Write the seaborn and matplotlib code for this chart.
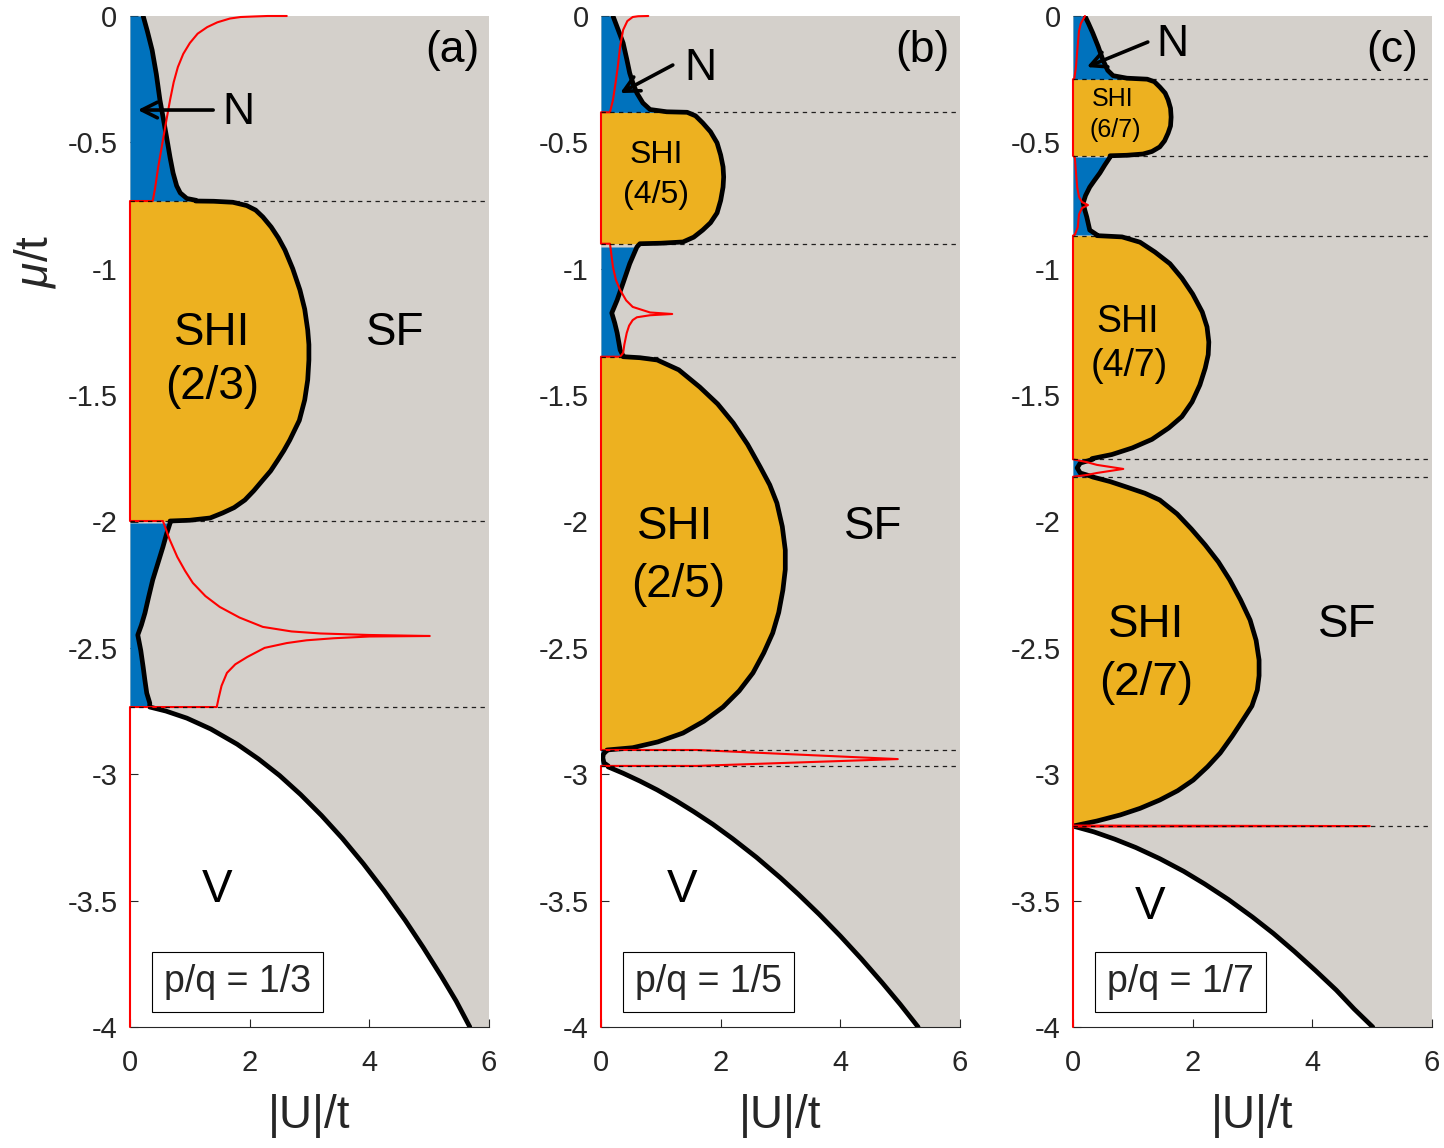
import matplotlib
matplotlib.use("Agg")
import matplotlib.pyplot as plt
import seaborn as sns
import numpy as np

sns.set_style("ticks")
plt.rcParams['font.family'] = ['Liberation Sans', 'DejaVu Sans']
plt.rcParams['axes.unicode_minus'] = False
plt.rcParams['mathtext.fontset'] = 'custom'
plt.rcParams['mathtext.it'] = 'Liberation Sans:italic'
plt.rcParams['mathtext.rm'] = 'Liberation Sans'

GRAY = '#D4D0CB'
ORANGE = '#EDB120'
BLUE = '#0072BD'
RED = '#FF0000'
AXC = '#262626'

X_TICKS = [0, 2, 4, 6]
Y_TICKS = [0, -0.5, -1, -1.5, -2, -2.5, -3, -3.5, -4]
Y_LABELS = ['0', '-0.5', '-1', '-1.5', '-2', '-2.5', '-3', '-3.5', '-4']

# ---------------- panel (a): p/q = 1/3 ----------------  (|U|/t, mu/t)
A_N1 = [(0.22, 0.0), (0.29, -0.06), (0.37, -0.135), (0.44, -0.23), (0.50, -0.332),
        (0.56, -0.41), (0.62, -0.491), (0.67, -0.56), (0.72, -0.621), (0.78, -0.672),
        (0.84, -0.700), (0.95, -0.722), (1.10, -0.729)]
A_L1 = [(1.10, -0.732), (1.40, -0.733), (1.72, -0.737), (1.95, -0.750), (2.10, -0.768),
        (2.22, -0.795), (2.36, -0.835), (2.48, -0.878), (2.59, -0.926), (2.72, -1.000),
        (2.84, -1.084), (2.92, -1.160), (2.97, -1.242), (2.99, -1.300), (2.99, -1.361),
        (2.97, -1.440), (2.92, -1.519), (2.83, -1.600), (2.67, -1.678), (2.57, -1.720),
        (2.47, -1.757), (2.35, -1.800), (2.22, -1.836), (2.07, -1.878), (1.92, -1.915),
        (1.74, -1.945), (1.55, -1.966), (1.34, -1.986), (1.00, -1.995), (0.67, -1.998)]
A_N2 = [(0.67, -2.006), (0.61, -2.05), (0.55, -2.101), (0.46, -2.17), (0.38, -2.231),
        (0.31, -2.30), (0.25, -2.362), (0.19, -2.41), (0.13, -2.449), (0.18, -2.51),
        (0.22, -2.576), (0.25, -2.63), (0.28, -2.679), (0.33, -2.718)]
A_V = [(0.0, -2.734), (0.33, -2.734), (0.60, -2.750), (0.95, -2.778), (1.35, -2.821),
       (1.79, -2.881), (2.15, -2.940), (2.5, -3.005), (2.85, -3.080), (3.2, -3.163),
       (3.55, -3.254), (3.9, -3.354), (4.25, -3.462), (4.6, -3.578), (4.9, -3.685),
       (5.2, -3.798), (5.45, -3.897), (5.68, -4.0)]
A_RED = [(2.62, 0.0), (2.30, 0.0), (2.06, -0.002), (1.85, -0.004), (1.67, -0.010),
         (1.46, -0.025), (1.29, -0.044), (1.13, -0.070), (1.00, -0.107), (0.89, -0.150),
         (0.80, -0.202), (0.73, -0.262), (0.67, -0.332), (0.61, -0.410), (0.55, -0.491),
         (0.47, -0.60), (0.42, -0.68), (0.38, -0.732), (0.0, -0.732),
         (0.0, -1.998), (0.55, -1.998), (0.66, -2.07), (0.79, -2.140), (0.92, -2.195),
         (1.05, -2.243), (1.26, -2.295), (1.50, -2.338), (1.83, -2.38), (2.22, -2.417),
         (2.70, -2.435), (3.18, -2.443), (4.0, -2.449), (5.01, -2.453), (4.0, -2.455),
         (3.40, -2.462), (2.95, -2.470), (2.62, -2.481), (2.25, -2.50), (1.96, -2.536),
         (1.76, -2.565), (1.62, -2.599), (1.53, -2.65), (1.48, -2.70), (1.45, -2.734),
         (0.0, -2.734), (0.0, -4.0)]
A_DASH = [-0.732, -1.998, -2.734]

# ---------------- panel (b): p/q = 1/5 ----------------
B_N1 = [(0.20, 0.0), (0.28, -0.05), (0.37, -0.107), (0.43, -0.17), (0.48, -0.226),
        (0.54, -0.27), (0.60, -0.305), (0.70, -0.344), (0.82, -0.370), (1.10, -0.379),
        (1.44, -0.381)]
B_L1 = [(1.44, -0.381), (1.58, -0.395), (1.70, -0.423), (1.83, -0.458), (1.94, -0.502),
        (2.00, -0.550), (2.04, -0.597), (2.05, -0.637), (2.04, -0.677), (2.00, -0.730),
        (1.94, -0.779), (1.83, -0.818), (1.70, -0.847), (1.55, -0.875), (1.37, -0.894),
        (1.00, -0.899), (0.65, -0.901)]
B_N2 = [(0.60, -0.914), (0.48, -0.98), (0.37, -1.056), (0.27, -1.124), (0.18, -1.175),
        (0.23, -1.215), (0.27, -1.254), (0.32, -1.321), (0.37, -1.345)]
B_L2 = [(0.37, -1.348), (0.65, -1.352), (0.94, -1.361), (1.30, -1.400), (1.65, -1.468),
        (1.95, -1.535), (2.21, -1.610), (2.45, -1.695), (2.66, -1.784), (2.82, -1.855),
        (2.94, -1.927), (3.03, -2.020), (3.08, -2.113), (3.08, -2.190), (3.04, -2.271),
        (2.97, -2.360), (2.87, -2.441), (2.72, -2.520), (2.54, -2.599), (2.31, -2.670),
        (2.04, -2.734), (1.72, -2.790), (1.37, -2.837), (0.95, -2.872), (0.53, -2.895),
        (0.10, -2.904)]
B_N3 = [(0.10, -2.906), (0.04, -2.92), (0.03, -2.935), (0.05, -2.955), (0.12, -2.967)]
B_V = [(0.0, -2.971), (0.12, -2.971), (0.37, -2.996), (0.65, -3.027), (0.94, -3.062),
       (1.25, -3.104), (1.55, -3.148), (1.87, -3.198), (2.2, -3.255), (2.6, -3.329),
       (3.0, -3.410), (3.3, -3.475), (3.65, -3.555), (4.0, -3.640), (4.35, -3.730),
       (4.7, -3.825), (5.0, -3.910), (5.3, -4.0)]
B_RED = [(0.79, 0.0), (0.62, -0.001), (0.53, -0.004), (0.44, -0.02), (0.37, -0.055),
         (0.32, -0.12), (0.28, -0.202), (0.24, -0.27), (0.20, -0.332), (0.15, -0.381),
         (0.0, -0.381), (0.0, -0.901), (0.15, -0.901), (0.20, -0.993), (0.25, -1.045),
         (0.32, -1.084), (0.42, -1.125), (0.53, -1.151), (0.82, -1.173), (1.19, -1.179),
         (0.82, -1.184), (0.60, -1.192), (0.53, -1.203), (0.47, -1.225), (0.43, -1.254),
         (0.39, -1.30), (0.37, -1.333), (0.32, -1.348), (0.0, -1.348),
         (0.0, -2.904), (1.6, -2.904), (4.96, -2.94), (1.6, -2.967), (0.0, -2.967),
         (0.0, -4.0)]
B_DASH = [-0.381, -0.901, -1.348, -2.904, -2.967]

# ---------------- panel (c): p/q = 1/7 ----------------
C_N1 = [(0.20, 0.0), (0.26, -0.03), (0.33, -0.067), (0.42, -0.12), (0.50, -0.174),
        (0.58, -0.215), (0.67, -0.236), (0.90, -0.246), (1.24, -0.250)]
C_L1 = [(1.24, -0.250), (1.36, -0.260), (1.45, -0.281), (1.54, -0.305), (1.59, -0.332),
        (1.63, -0.365), (1.64, -0.400), (1.63, -0.435), (1.59, -0.463), (1.53, -0.494),
        (1.45, -0.518), (1.32, -0.536), (1.17, -0.546), (0.90, -0.551), (0.62, -0.553)]
C_N2 = [(0.62, -0.558), (0.53, -0.59), (0.45, -0.621), (0.36, -0.65), (0.28, -0.677),
        (0.21, -0.71), (0.17, -0.740), (0.20, -0.77), (0.23, -0.795), (0.28, -0.847),
        (0.40, -0.866)]
C_L2 = [(0.40, -0.869), (0.82, -0.874), (1.12, -0.895), (1.37, -0.934), (1.62, -0.980),
        (1.82, -1.037), (2.00, -1.100), (2.16, -1.171), (2.24, -1.230), (2.27, -1.290),
        (2.26, -1.340), (2.21, -1.393), (2.12, -1.460), (1.99, -1.527), (1.82, -1.585),
        (1.60, -1.630), (1.32, -1.675), (0.99, -1.709), (0.65, -1.735), (0.32, -1.751)]
C_N3 = [(0.33, -1.754), (0.12, -1.769), (0.07, -1.788), (0.12, -1.808), (0.33, -1.823)]
C_L3 = [(0.33, -1.824), (0.62, -1.842), (0.90, -1.864), (1.20, -1.888), (1.45, -1.915),
        (1.74, -1.970), (1.98, -2.030), (2.21, -2.093), (2.43, -2.160), (2.62, -2.231),
        (2.80, -2.310), (2.96, -2.390), (3.06, -2.470), (3.11, -2.548), (3.11, -2.610),
        (3.08, -2.667), (2.99, -2.730), (2.84, -2.785), (2.66, -2.850), (2.46, -2.916),
        (2.25, -2.970), (2.01, -3.023), (1.75, -3.065), (1.45, -3.102), (1.12, -3.135),
        (0.79, -3.161), (0.40, -3.185), (0.0, -3.205)]
C_V = [(0.0, -3.205), (0.35, -3.228), (0.7, -3.257), (1.05, -3.290), (1.45, -3.334),
       (1.85, -3.384), (2.2, -3.434), (2.6, -3.496), (3.0, -3.565), (3.35, -3.630),
       (3.7, -3.701), (4.05, -3.776), (4.4, -3.854), (4.7, -3.929), (5.01, -4.0)]
C_RED = [(0.20, 0.0), (0.13, -0.03), (0.10, -0.06), (0.07, -0.14), (0.05, -0.20),
         (0.02, -0.25), (0.0, -0.25), (0.0, -0.553), (0.03, -0.56), (0.05, -0.62),
         (0.07, -0.677), (0.10, -0.715), (0.15, -0.736), (0.25, -0.748), (0.15, -0.76),
         (0.10, -0.785), (0.08, -0.835), (0.03, -0.866), (0.0, -0.869), (0.0, -1.754),
         (0.23, -1.765), (0.40, -1.776), (0.84, -1.792), (0.40, -1.808), (0.23, -1.816),
         (0.0, -1.823), (0.0, -3.203), (4.96, -3.205), (0.0, -3.207), (0.0, -4.0)]
C_DASH = [-0.250, -0.553, -0.869, -1.754, -1.823, -3.205]

# labels: (text, U, mu, fontsize)
A_TEXT = [('(a)', 5.38, -0.135, 32), ('SHI', 1.37, -1.254, 33), ('(2/3)', 1.37, -1.468, 33),
          ('SF', 4.43, -1.254, 33), ('V', 1.45, -3.458, 33)]
B_TEXT = [('(b)', 5.37, -0.135, 32), ('SHI', 0.92, -0.550, 23), ('(4/5)', 0.92, -0.708, 23),
          ('SHI', 1.24, -2.022, 33), ('(2/5)', 1.29, -2.251, 33),
          ('SF', 4.55, -2.022, 33), ('V', 1.35, -3.458, 33)]
C_TEXT = [('(c)', 5.33, -0.135, 32), ('SHI', 0.67, -0.328, 18), ('(6/7)', 0.70, -0.451, 18),
          ('SHI', 0.92, -1.211, 27), ('(4/7)', 0.94, -1.385, 27),
          ('SHI', 1.22, -2.410, 33), ('(2/7)', 1.22, -2.639, 33),
          ('SF', 4.58, -2.410, 33), ('V', 1.29, -3.525, 33)]
# N arrow: text pos, arrow tail, arrow head
A_ARROW = [(1.82, -0.380), (1.39, -0.372), (0.13, -0.372)]
B_ARROW = [(1.67, -0.206), (1.20, -0.194), (0.32, -0.305)]
C_ARROW = [(1.67, -0.111), (1.25, -0.103), (0.23, -0.202)]
BOX_LABELS = ['p/q = 1/3', 'p/q = 1/5', 'p/q = 1/7']
BOX_POS = (1.79, -3.82)


def xy(pts):
    a = np.array(pts, dtype=float)
    return a[:, 0], a[:, 1]


def draw_panel(ax, norm_regions, lobes, vac, boundary, red, dashes, texts, arrow, box):
    ax.set_facecolor(GRAY)
    u, m = xy(vac)
    ax.fill_betweenx(m, 0, u, color='white', lw=0, zorder=0.3)
    for lb in lobes:
        u, m = xy(lb)
        ax.fill_betweenx(m, 0, u, color=ORANGE, lw=0, zorder=1)
    for nr in norm_regions:
        u, m = xy(nr)
        ax.fill_betweenx(m, 0, u, color=BLUE, lw=0, zorder=1)
    u, m = xy(boundary)
    sns.lineplot(x=u, y=m, sort=False, estimator=None, color='k', lw=3.4, ax=ax,
                 zorder=4, solid_joinstyle='round', solid_capstyle='round')
    u, m = xy(red)
    sns.lineplot(x=u, y=m, sort=False, estimator=None, color=RED, lw=1.5, ax=ax, zorder=5)
    ax.lines[-1].set_clip_on(False)
    for d in dashes:
        ax.axhline(d, color='k', lw=0.9, ls=(0, (3.5, 3.5)), zorder=6, alpha=0.85)
    for t, x, y, fs in texts:
        ax.text(x, y, t, fontsize=fs, ha='center', va='center', color='k', zorder=8)
    (tx, ty), (ax0, ay0), (hx, hy) = arrow
    ax.text(tx, ty, 'N', fontsize=32, ha='center', va='center', color='k', zorder=8)
    ax.annotate('', xy=(hx, hy), xytext=(ax0, ay0),
                arrowprops=dict(arrowstyle='->', lw=2.6, color='k', mutation_scale=28,
                                shrinkA=0, shrinkB=0), zorder=8)
    ax.text(BOX_POS[0], BOX_POS[1], box, fontsize=27, ha='center', va='center', zorder=9,
            bbox=dict(boxstyle='square,pad=0.32', fc='white', ec='k', lw=0.8))

    ax.set_xlim(0, 6)
    ax.set_ylim(-4, 0)
    ax.set_xticks(X_TICKS)
    ax.set_xticklabels([str(v) for v in X_TICKS])
    ax.set_yticks(Y_TICKS)
    ax.set_yticklabels(Y_LABELS)
    ax.set_axisbelow(True)
    ax.tick_params(direction='in', length=6, width=0.8, color=AXC, labelcolor=AXC,
                   labelsize=21)
    ax.tick_params(axis='x', pad=16)
    ax.tick_params(axis='y', pad=9)
    for s in ['top', 'right', 'left']:
        ax.spines[s].set_visible(False)
    ax.spines['bottom'].set_color(AXC)
    ax.spines['bottom'].set_linewidth(0.8)
    ax.set_xlabel('|U|/t', fontsize=33, color=AXC, labelpad=12)
    ax.set_ylabel('')


fig = plt.figure(figsize=(14.44, 11.48), dpi=100)
lefts = [130 / 1444, 601 / 1444, 1073 / 1444]
axes = [fig.add_axes([l, 121 / 1148, 359 / 1444, 1011 / 1148]) for l in lefts]

draw_panel(axes[0], [A_N1 + [(1.10, -0.732)], A_N2 + [(0.33, -2.734)]], [A_L1], A_V,
           A_N1 + A_L1 + A_N2 + A_V[1:], A_RED, A_DASH, A_TEXT, A_ARROW, BOX_LABELS[0])
draw_panel(axes[1], [B_N1, B_N2, B_N3], [B_L1, B_L2], B_V,
           B_N1 + B_L1 + B_N2 + B_L2 + B_N3 + B_V[1:], B_RED, B_DASH, B_TEXT, B_ARROW,
           BOX_LABELS[1])
draw_panel(axes[2], [C_N1, C_N2, C_N3], [C_L1, C_L2, C_L3], C_V,
           C_N1 + C_L1 + C_N2 + C_L2 + C_N3 + C_L3 + C_V[1:], C_RED, C_DASH, C_TEXT,
           C_ARROW, BOX_LABELS[2])

axes[0].set_ylabel(r'$\mu$/t', fontsize=33, color=AXC)
axes[0].yaxis.set_label_coords(-0.20, 0.757)

fig.savefig('out.png', dpi=100)
